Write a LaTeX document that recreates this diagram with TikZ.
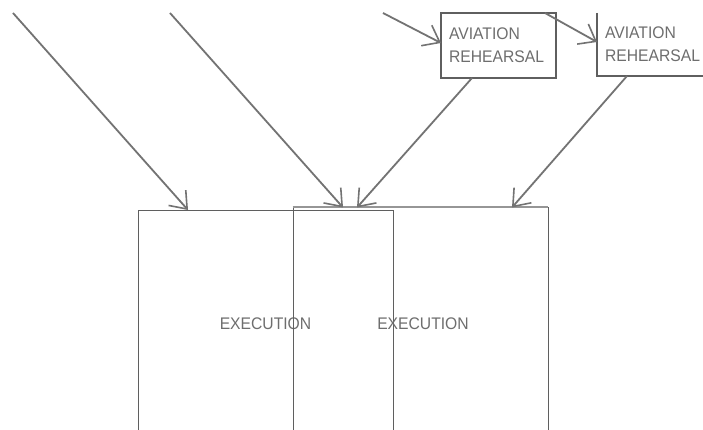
\documentclass[tikz,border=0pt]{standalone}
\usepackage{fontspec}
\setmainfont{Liberation Sans}
\usetikzlibrary{arrows.meta,calc}
\definecolor{txtgray}{RGB}{110,110,110}
\definecolor{linegray}{RGB}{115,115,115}
\definecolor{boxgray}{RGB}{95,95,95}
\definecolor{topgray}{RGB}{150,150,150}
\tikzset{
  conn/.style={draw=linegray, line width=1.8pt, -{Straight Barb[length=15pt,width=23pt,line width=1.6pt]}},
  execbox/.style={draw=boxgray, line width=0.9pt, rectangle, minimum width=255pt, inner sep=0pt,
     font=\fontsize{16}{19}\selectfont, text=txtgray},
  avbox/.style={rectangle, minimum width=115pt, text width=99pt, inner sep=8pt, align=left,
     font=\fontsize{16}{22.6}\selectfont, text=txtgray},
}
\newcommand{\tallt}[1]{\scalebox{0.98}[1.05]{#1}}
\begin{document}
\begin{tikzpicture}[x=1pt,y=-1pt]
\clip (0,0) rectangle (703,430);
\fill[white] (0,0) rectangle (703,430);
% execution boxes
\node[execbox, minimum height=228pt] (e1) at (265.5,324) {\tallt{EXECUTION}};
\node[execbox, minimum height=233pt] (e2) at (420.5,324) {\hspace*{5pt}\tallt{EXECUTION}};
\draw[topgray, line width=2pt] (e2.north west) -- (e2.north east);
% aviation boxes
\node[avbox, draw=boxgray, line width=1.5pt, minimum height=65pt] (a1) at (498.5,45.5) {\tallt{AVIATION}\\\tallt{REHEARSAL}};
\node[avbox, minimum height=63pt] (a2) at (654.5,44.5) {\tallt{AVIATION}\\\tallt{REHEARSAL}};
\draw[draw=boxgray, line width=1.5pt] (a2.north west) -- (a2.south west) -- (a2.south east);
% free ends
\coordinate (s1) at (13,13);
\coordinate (s2) at (170,13);
\coordinate (s5) at (383,13);
\coordinate (t1) at (188,210);
\coordinate (t2) at (343,207.5);
\coordinate (t3) at (357,207.5);
\coordinate (t4) at (512,207.5);
\coordinate (a1b) at (472,78);
\coordinate (a2b) at (627,76);
\coordinate (a1l) at (441,43);
\coordinate (a1t) at (545,13);
\coordinate (a2l) at (597,42);
% connectors
\draw[conn] (s1) -- (t1);
\draw[conn] (s2) -- (t2);
\draw[conn] (a1b) -- (t3);
\draw[conn] (a2b) -- (t4);
\draw[conn] (s5) -- (a1l);
\draw[conn] (a1t) -- (a2l);
\end{tikzpicture}
\end{document}
